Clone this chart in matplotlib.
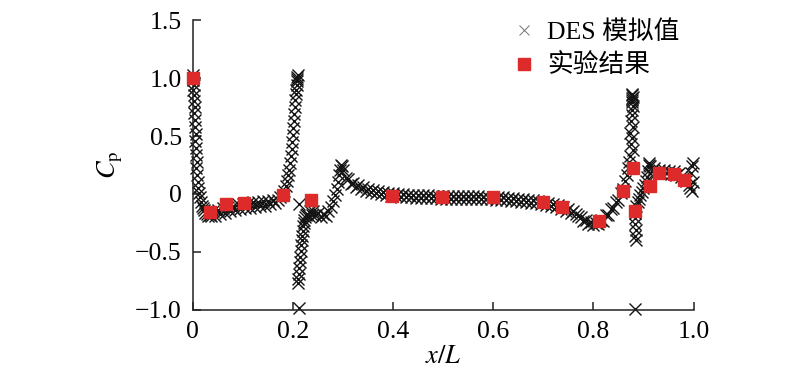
import matplotlib
matplotlib.use("Agg")
import matplotlib.pyplot as plt
import numpy as np

plt.rcParams['font.family'] = ['Liberation Serif', 'Noto Sans CJK SC', 'DejaVu Sans']
plt.rcParams['mathtext.fontset'] = 'stix'
plt.rcParams['axes.unicode_minus'] = True

# ---- DES simulation ----
nose_x = [0.000, 0.001, 0.000, 0.002, 0.001, 0.003, 0.002, 0.004, 0.003, 0.005, 0.004,
          0.006, 0.005, 0.007, 0.006, 0.008, 0.007, 0.009, 0.010, 0.011, 0.012, 0.014,
          0.016, 0.018, 0.020, 0.022, 0.025, 0.028, 0.031, 0.034, 0.037]
nose_cp = [1.03, 1.00, 0.98, 0.94, 0.90, 0.85, 0.80, 0.75, 0.70, 0.64, 0.58,
           0.52, 0.46, 0.40, 0.34, 0.28, 0.22, 0.16, 0.10, 0.05, 0.01, -0.03,
           -0.07, -0.10, -0.12, -0.14, -0.16, -0.17, -0.19, -0.18, -0.19]

front_x = [0.040, 0.045, 0.050, 0.055, 0.060, 0.065, 0.070, 0.075, 0.080, 0.085,
           0.090, 0.095, 0.100, 0.105, 0.110, 0.115, 0.120, 0.125, 0.130, 0.135,
           0.140, 0.145, 0.150, 0.155, 0.160, 0.165, 0.170, 0.175]
front_cp = [-0.15, -0.19, -0.14, -0.17, -0.12, -0.16, -0.11, -0.15, -0.10, -0.14,
            -0.09, -0.13, -0.09, -0.12, -0.08, -0.12, -0.07, -0.11, -0.07, -0.10,
            -0.06, -0.10, -0.06, -0.09, -0.05, -0.08, -0.05, -0.03]

rise_x = [0.180, 0.183, 0.186, 0.189, 0.191, 0.193, 0.195, 0.197, 0.198, 0.199, 0.200,
          0.201, 0.202, 0.203, 0.204, 0.205, 0.206, 0.207, 0.208, 0.208, 0.209, 0.209,
          0.210]
rise_cp = [-0.01, 0.03, 0.07, 0.11, 0.16, 0.21, 0.27, 0.33, 0.39, 0.45, 0.51,
           0.57, 0.63, 0.69, 0.75, 0.81, 0.86, 0.90, 0.94, 0.97, 0.99, 1.01,
           1.03]

drop_x = [0.212, 0.212, 0.210, 0.211, 0.212, 0.213, 0.214, 0.215, 0.216, 0.217,
          0.218, 0.219, 0.220, 0.221, 0.222, 0.223, 0.224, 0.226, 0.229, 0.232,
          0.235, 0.238]
drop_cp = [-0.09, -0.98, -0.77, -0.73, -0.69, -0.64, -0.59, -0.54, -0.49, -0.44,
           -0.40, -0.36, -0.32, -0.28, -0.25, -0.22, -0.20, -0.18, -0.17, -0.19,
           -0.15, -0.18]

hump_x = [0.240, 0.245, 0.250, 0.255, 0.260, 0.265, 0.270, 0.275, 0.280, 0.284,
          0.287, 0.290, 0.292, 0.294, 0.296, 0.297]
hump_cp = [-0.15, -0.18, -0.16, -0.20, -0.17, -0.19, -0.15, -0.11, -0.06, -0.01,
           0.04, 0.10, 0.16, 0.21, 0.25, 0.24]

mid_x = [0.300, 0.305, 0.310, 0.315, 0.320, 0.325, 0.330, 0.335, 0.340, 0.345,
         0.350, 0.355, 0.360, 0.365, 0.370, 0.375, 0.380, 0.385, 0.390, 0.395,
         0.400, 0.405, 0.410, 0.415, 0.420, 0.425, 0.430, 0.435, 0.440, 0.445,
         0.450, 0.455, 0.460, 0.465, 0.470, 0.475, 0.480, 0.485, 0.490, 0.495,
         0.500, 0.505, 0.510, 0.515, 0.520, 0.525, 0.530, 0.535, 0.540, 0.545,
         0.550, 0.555, 0.560, 0.565, 0.570, 0.575, 0.580, 0.585, 0.590, 0.595,
         0.600, 0.605, 0.610, 0.615, 0.620, 0.625, 0.630, 0.635, 0.640, 0.645,
         0.650, 0.655, 0.660, 0.665, 0.670, 0.675, 0.680, 0.685, 0.690, 0.695,
         0.700, 0.705, 0.710, 0.715, 0.720, 0.725, 0.730, 0.735, 0.740, 0.745,
         0.750, 0.755, 0.760]
mid_cp = [0.210, 0.140, 0.130, 0.090, 0.097, 0.063, 0.074, 0.040, 0.056, 0.025,
          0.043, 0.014, 0.033, 0.005, 0.025, -0.003, 0.017, -0.010, 0.011, -0.016,
          0.005, -0.021, 0.001, -0.025, -0.003, -0.028, -0.005, -0.030, -0.007, -0.032,
          -0.009, -0.034, -0.011, -0.036, -0.013, -0.037, -0.014, -0.038, -0.015, -0.039,
          -0.016, -0.040, -0.017, -0.041, -0.017, -0.042, -0.018, -0.042, -0.019, -0.043,
          -0.019, -0.044, -0.020, -0.044, -0.021, -0.045, -0.022, -0.046, -0.023, -0.047,
          -0.024, -0.049, -0.026, -0.051, -0.028, -0.053, -0.031, -0.057, -0.035, -0.061,
          -0.039, -0.065, -0.043, -0.070, -0.049, -0.076, -0.055, -0.082, -0.061, -0.088,
          -0.068, -0.096, -0.076, -0.105, -0.086, -0.116, -0.098, -0.129, -0.112, -0.144,
          -0.128, -0.162, -0.148]

rear_x = [0.765, 0.770, 0.775, 0.780, 0.785, 0.790, 0.795, 0.800, 0.805, 0.810,
          0.815, 0.820, 0.825, 0.830, 0.835, 0.840, 0.845, 0.850, 0.855, 0.860,
          0.864, 0.867, 0.870, 0.872]
rear_cp = [-0.17, -0.19, -0.20, -0.23, -0.22, -0.26, -0.24, -0.27, -0.25, -0.26,
           -0.22, -0.23, -0.18, -0.18, -0.13, -0.12, -0.07, -0.05, 0.01, 0.04,
           0.11, 0.16, 0.22, 0.28]

spike_x = [0.874, 0.878, 0.875, 0.877, 0.874, 0.878, 0.875, 0.877, 0.876, 0.878,
           0.876, 0.877, 0.876, 0.878, 0.877, 0.876]
spike_cp = [0.33, 0.38, 0.43, 0.48, 0.53, 0.58, 0.63, 0.68, 0.72, 0.76,
            0.79, 0.81, 0.83, 0.84, 0.85, 0.86]

dip_x = [0.882, 0.883, 0.882, 0.884, 0.883, 0.884, 0.883]
dip_cp = [-0.16, -0.21, -0.26, -0.31, -0.36, -0.40, -0.99]

tail_x = [0.885, 0.888, 0.890, 0.893, 0.896, 0.899, 0.902, 0.905, 0.907, 0.909,
          0.910, 0.911, 0.913, 0.916, 0.920, 0.925, 0.930, 0.935, 0.940, 0.945,
          0.950, 0.955, 0.960, 0.965, 0.970, 0.975, 0.980, 0.985, 0.990, 0.993,
          0.996, 0.998, 0.995, 0.997, 0.999]
tail_cp = [-0.10, -0.07, -0.04, -0.01, 0.02, 0.05, 0.08, 0.11, 0.15, 0.20,
           0.25, 0.27, 0.24, 0.20, 0.22, 0.18, 0.21, 0.18, 0.21, 0.18,
           0.20, 0.17, 0.20, 0.16, 0.18, 0.15, 0.15, 0.11, 0.08, 0.05,
           0.03, 0.10, 0.18, 0.24, 0.27]

# ---- experiment ----
exp_x = [0.0, 0.035, 0.067, 0.102, 0.180, 0.237, 0.398, 0.497, 0.600, 0.699,
         0.738, 0.811, 0.860, 0.878, 0.883, 0.912, 0.930, 0.961, 0.980]
exp_cp = [1.0, -0.152, -0.083, -0.075, -0.005, -0.055, -0.017, -0.026, -0.026, -0.069,
          -0.112, -0.233, 0.026, 0.225, -0.150, 0.069, 0.178, 0.172, 0.120]

x_ticks = [0, 0.2, 0.4, 0.6, 0.8, 1.0]
x_ticklabels = ['0', '0.2', '0.4', '0.6', '0.8', '1.0']
y_ticks = [-1.0, -0.5, 0, 0.5, 1.0, 1.5]
y_ticklabels = ['\u22121.0', '\u22120.5', '0', '0.5', '1.0', '1.5']

des_x = nose_x + front_x + rise_x + drop_x + hump_x + mid_x + rear_x + spike_x + dip_x + tail_x
des_cp = nose_cp + front_cp + rise_cp + drop_cp + hump_cp + mid_cp + rear_cp + spike_cp + dip_cp + tail_cp

fig = plt.figure(figsize=(8, 3.78), dpi=100)
ax = fig.add_axes([0.241, 0.180, 0.626, 0.767])

ax.plot(des_x, des_cp, linestyle='none', marker='x', ms=8, mew=1.0,
        color='0.08', clip_on=False, label='DES 模拟值')
ax.plot(exp_x, exp_cp, linestyle='none', marker='s', ms=8.5,
        color='#dd2a2a', mec='#dd2a2a', clip_on=False, label='实验结果', zorder=3)

ax.set_xlim(0, 1.0)
ax.set_ylim(-1.0, 1.5)
ax.set_xticks(x_ticks)
ax.set_xticklabels(x_ticklabels)
ax.set_yticks(y_ticks)
ax.set_yticklabels(y_ticklabels)

for s in ['top', 'right']:
    ax.spines[s].set_visible(False)
for s in ['left', 'bottom']:
    ax.spines[s].set_linewidth(1.1)
    ax.spines[s].set_color('#222222')
ax.tick_params(direction='in', length=6, width=1.1, color='#222222',
               labelsize=18.5, pad=8)

ax.set_xlabel('$x/L$', fontsize=19, labelpad=2)
ax.set_ylabel('$C_\\mathrm{p}$', fontsize=19, labelpad=7)

leg = ax.legend(loc='upper left', bbox_to_anchor=(0.62, 1.035), frameon=False,
                fontsize=18.5, handlelength=0.8, handletextpad=0.5,
                labelspacing=0.4, borderaxespad=0)
leg.legend_handles[0].set_color('0.45')
leg.legend_handles[0].set_markeredgewidth(0.7)
leg.legend_handles[0].set_markersize(6.5)

fig.savefig('out.png', dpi=100)
